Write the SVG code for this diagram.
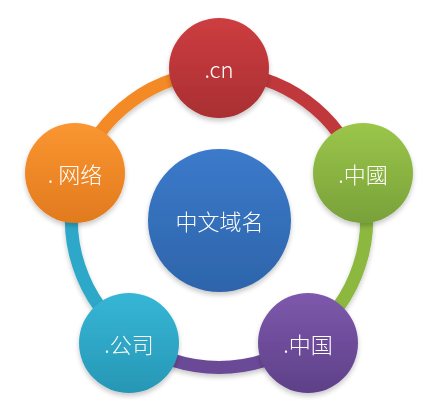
<svg xmlns="http://www.w3.org/2000/svg" width="447" height="409" viewBox="0 0 447 409">
<defs>
<linearGradient id="gRed" x1="0" y1="0" x2="0" y2="1"><stop offset="0" stop-color="#CD3D40"/><stop offset="1" stop-color="#A92F32"/></linearGradient>
<linearGradient id="gGreen" x1="0" y1="0" x2="0" y2="1"><stop offset="0" stop-color="#9BC64A"/><stop offset="1" stop-color="#79A13A"/></linearGradient>
<linearGradient id="gPurple" x1="0" y1="0" x2="0" y2="1"><stop offset="0" stop-color="#7E58AC"/><stop offset="1" stop-color="#5E4088"/></linearGradient>
<linearGradient id="gCyan" x1="0" y1="0" x2="0" y2="1"><stop offset="0" stop-color="#36B6D6"/><stop offset="1" stop-color="#2797B5"/></linearGradient>
<linearGradient id="gOrange" x1="0" y1="0" x2="0" y2="1"><stop offset="0" stop-color="#FA9631"/><stop offset="1" stop-color="#E27A1E"/></linearGradient>
<linearGradient id="gBlue" x1="0" y1="0" x2="0" y2="1"><stop offset="0" stop-color="#3C7ACB"/><stop offset="1" stop-color="#2D64AA"/></linearGradient>
<filter id="sh" x="-20%" y="-20%" width="140%" height="150%">
<feGaussianBlur in="SourceAlpha" stdDeviation="2.5"/>
<feOffset dx="0" dy="3" result="b"/>
<feComponentTransfer><feFuncA type="linear" slope="0.22"/></feComponentTransfer>
<feMerge><feMergeNode/><feMergeNode in="SourceGraphic"/></feMerge>
</filter>
</defs>
<style>
.arc{fill:none;stroke-width:13;}
.lbl{fill:#FFFFFF;font-family:"Noto Sans CJK SC","Noto Sans",sans-serif;font-weight:300;font-size:22px;text-anchor:middle;dominant-baseline:central;}
</style>
<g id="connectors" filter="url(#sh)">
<path class="arc" stroke="#C0373A" d="M219,72.5 A147.5,147.5 0 0 1 359.3,174.4"/>
<path class="arc" stroke="#8CB840" d="M359.3,174.4 A147.5,147.5 0 0 1 305.7,339.3"/>
<path class="arc" stroke="#6A4896" d="M305.7,339.3 A147.5,147.5 0 0 1 132.3,339.3"/>
<path class="arc" stroke="#2FA8C8" d="M132.3,339.3 A147.5,147.5 0 0 1 78.7,174.4"/>
<path class="arc" stroke="#F38A27" d="M78.7,174.4 A147.5,147.5 0 0 1 219,72.5"/>
</g>
<g id="node-center" filter="url(#sh)">
<circle cx="219.5" cy="220.5" r="71.5" fill="url(#gBlue)"/>
<text class="lbl" x="219.5" y="220" font-size="23">中文域名</text>
</g>
<g id="node-cn" filter="url(#sh)">
<circle cx="219" cy="68" r="50" fill="url(#gRed)"/>
<text class="lbl" x="219" y="68">.cn</text>
</g>
<g id="node-zhongguo-trad" filter="url(#sh)">
<circle cx="363" cy="173" r="50" fill="url(#gGreen)"/>
<text class="lbl" x="363" y="173">.中國</text>
</g>
<g id="node-zhongguo" filter="url(#sh)">
<circle cx="308" cy="343" r="50" fill="url(#gPurple)"/>
<text class="lbl" x="308" y="343">.中国</text>
</g>
<g id="node-gongsi" filter="url(#sh)">
<circle cx="129" cy="343" r="50" fill="url(#gCyan)"/>
<text class="lbl" x="129" y="343">.公司</text>
</g>
<g id="node-wangluo" filter="url(#sh)">
<circle cx="75" cy="173" r="50" fill="url(#gOrange)"/>
<text class="lbl" x="75" y="173">. 网络</text>
</g>
</svg>
